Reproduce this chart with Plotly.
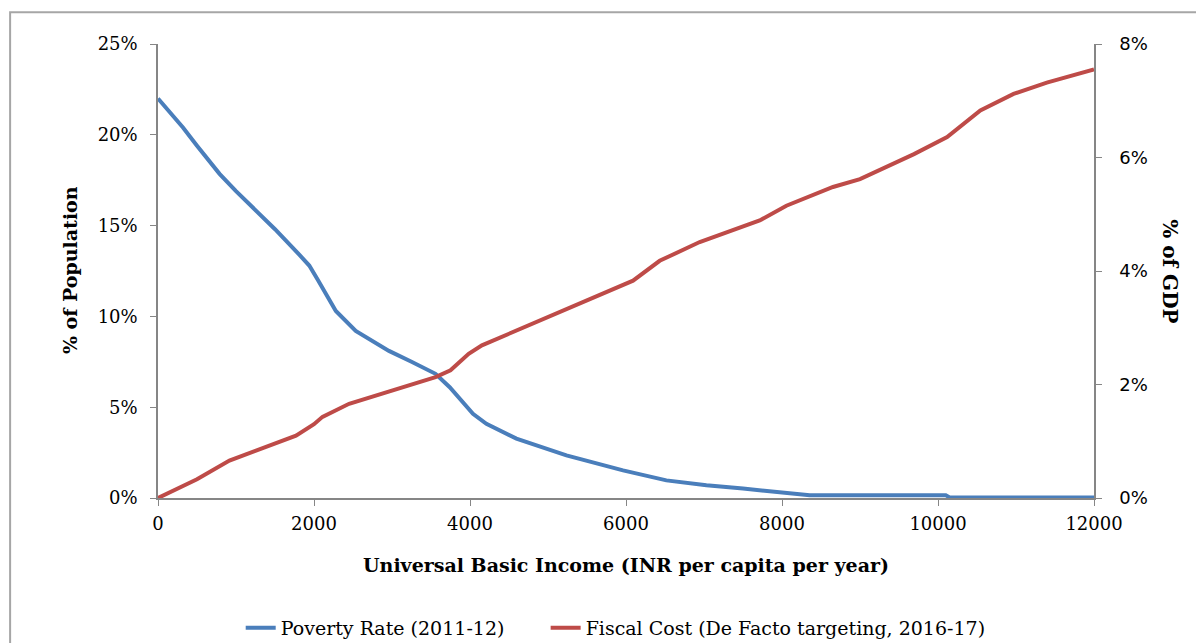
import plotly.graph_objects as go

# Universal Basic Income (INR per capita per year) vs poverty rate (% of population)
poverty_x = [0, 320, 500, 789, 1000, 1214, 1500, 1811, 1939, 2050, 2152, 2280, 2535, 2961,
             3250, 3558, 3740, 4038, 4210, 4595, 5236, 5962, 6518, 7031, 7500, 7885, 8355,
             10100, 10150, 12000]
poverty_rate = [22.0, 20.4, 19.4, 17.85, 16.9, 16.0, 14.8, 13.4, 12.8, 12.0, 11.2, 10.3, 9.2, 8.1,
                7.5, 6.84, 6.1, 4.64, 4.09, 3.27, 2.35, 1.52, 0.97, 0.70, 0.52, 0.33, 0.15,
                0.15, 0.03, 0.03]

# Universal Basic Income vs fiscal cost (% of GDP)
cost_x = [0, 500, 916, 1500, 1769, 2000, 2109, 2450, 2961, 3558, 3750, 3983, 4153, 5010,
          5663, 6090, 6432, 6945, 7714, 8056, 8654, 9000, 9692, 10117, 10543, 10969, 11395,
          12000]
fiscal_cost = [0.0, 0.33, 0.66, 0.95, 1.10, 1.30, 1.43, 1.66, 1.87, 2.13, 2.25, 2.54, 2.69, 3.19,
               3.57, 3.83, 4.18, 4.51, 4.89, 5.15, 5.48, 5.62, 6.06, 6.36, 6.83, 7.12, 7.32,
               7.55]

x_ticks = [0, 2000, 4000, 6000, 8000, 10000, 12000]
left_ticks = [0, 5, 10, 15, 20, 25]
right_ticks = [0, 2, 4, 6, 8]

BLUE = "#4A7EBB"
RED = "#BE4B48"
AXIS = "#868686"
SERIF = "DejaVu Serif"
SANS = "DejaVu Sans"

fig = go.Figure()
fig.add_trace(go.Scatter(x=poverty_x, y=poverty_rate, mode="lines",
                         name="Poverty Rate (2011-12)\u00a0\u00a0\u00a0\u00a0\u00a0\u00a0",
                         line=dict(color=BLUE, width=4), yaxis="y"))
fig.add_trace(go.Scatter(x=cost_x, y=fiscal_cost, mode="lines",
                         name="Fiscal Cost (De Facto targeting, 2016-17)",
                         line=dict(color=RED, width=4), yaxis="y2"))

fig.update_layout(
    width=1196, height=643,
    margin=dict(l=158, r=102, t=44, b=145, autoexpand=False),
    paper_bgcolor="white", plot_bgcolor="white",
    font=dict(family=SERIF, size=18, color="#000000"),
    showlegend=True,
    legend=dict(orientation="h", x=0.489, xanchor="center", y=0.0233, yanchor="middle",
                yref="container", font=dict(family=SERIF, size=19), tracegroupgap=0),
    xaxis=dict(range=[0, 12000], tickvals=x_ticks, ticktext=[str(v) for v in x_ticks],
               showgrid=False, zeroline=False, showline=True, linecolor=AXIS, linewidth=1.5,
               ticks="outside", ticklen=6, tickcolor=AXIS, tickfont=dict(family=SERIF, size=18),
               ticklabelstandoff=3),
    yaxis=dict(range=[0, 25], tickvals=left_ticks, ticktext=[f"{v}%" for v in left_ticks],
               showgrid=False, zeroline=False, showline=True, linecolor=AXIS, linewidth=1.5,
               ticks="outside", ticklen=6, tickcolor=AXIS, tickfont=dict(family=SERIF, size=18),
               ticklabelstandoff=9),
    yaxis2=dict(range=[0, 8], tickvals=right_ticks, ticktext=[f"{v}%" for v in right_ticks],
                overlaying="y", side="right",
                showgrid=False, zeroline=False, showline=True, linecolor=AXIS, linewidth=1.5,
                ticks="outside", ticklen=6, tickcolor=AXIS, tickfont=dict(family=SANS, size=18),
                ticklabelstandoff=14),
    shapes=[dict(type="rect", xref="paper", yref="paper", x0=-0.158, x1=1.2, y0=-0.4, y1=1.070,
                 line=dict(color="#A6A6A6", width=2), fillcolor="rgba(0,0,0,0)", layer="below")],
    annotations=[
        dict(text="<b>Universal Basic Income (INR per capita per year)</b>", xref="paper",
             yref="paper", x=0.5, y=-0.1476, showarrow=False, xanchor="center", yanchor="middle",
             font=dict(family=SERIF, size=19)),
        dict(text="<b>% of Population</b>", xref="paper", yref="paper", x=-0.094, y=0.502,
             textangle=-90, showarrow=False, xanchor="center", yanchor="middle",
             font=dict(family=SERIF, size=19)),
        dict(text="<b>% of GDP</b>", xref="paper", yref="paper", x=1.081, y=0.5,
             textangle=90, showarrow=False, xanchor="center", yanchor="middle",
             font=dict(family=SERIF, size=20)),
    ],
)

fig.write_html("out.html", config={"displayModeBar": False},
               post_script="document.body.style.margin='0';")
